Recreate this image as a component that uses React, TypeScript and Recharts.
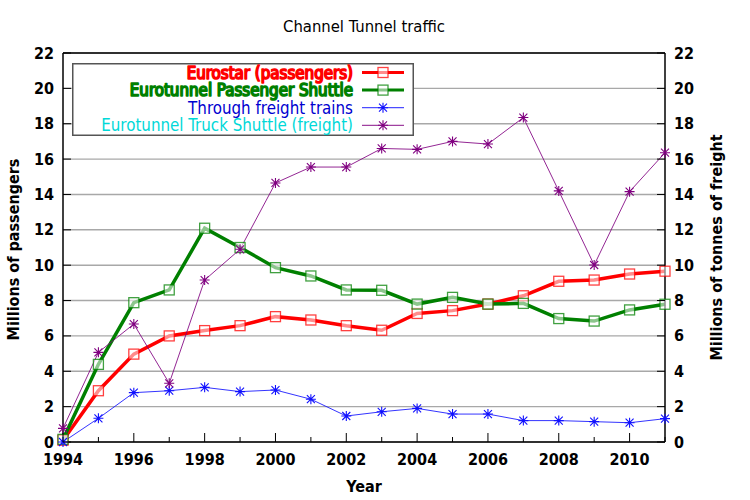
import React from 'react';
import { ComposedChart, Line, XAxis, YAxis, CartesianGrid, ReferenceLine, Legend } from 'recharts';

const years = [1994, 1995, 1996, 1997, 1998, 1999, 2000, 2001, 2002, 2003, 2004, 2005, 2006, 2007, 2008, 2009, 2010, 2011];
const eurostar = [0.1, 2.9, 4.97, 6.0, 6.3, 6.58, 7.09, 6.9, 6.58, 6.32, 7.27, 7.43, 7.8, 8.27, 9.09, 9.16, 9.5, 9.66];
const passengerShuttle = [0.15, 4.39, 7.88, 8.6, 12.09, 11.0, 9.86, 9.39, 8.6, 8.58, 7.8, 8.18, 7.8, 7.84, 6.98, 6.84, 7.47, 7.79];
const freightTrains = [0.0, 1.34, 2.79, 2.9, 3.09, 2.85, 2.94, 2.42, 1.47, 1.71, 1.9, 1.58, 1.58, 1.21, 1.21, 1.15, 1.09, 1.32];
const truckShuttle = [0.77, 5.07, 6.67, 3.32, 9.16, 10.9, 14.65, 15.55, 15.55, 16.6, 16.55, 17.0, 16.85, 18.35, 14.2, 10.01, 14.16, 16.36];
const yTicks = [0, 2, 4, 6, 8, 10, 12, 14, 16, 18, 20, 22];

const data = years.map((year, i) => ({
  year,
  eurostar: eurostar[i],
  passengerShuttle: passengerShuttle[i],
  freightTrains: freightTrains[i],
  truckShuttle: truckShuttle[i],
}));

const FONT = "'DejaVu Sans Condensed', 'DejaVu Sans', sans-serif";
const COND = 'condensed';

type SeriesMeta = {
  key: string;
  label: string;
  textColor: string;
  color: string;
  width: number;
  marker: 'square' | 'star';
  outline: boolean;
  axis: 'left' | 'right';
};

const series: SeriesMeta[] = [
  { key: 'eurostar', label: 'Eurostar (passengers)', textColor: '#ff0000', color: '#ff0000', width: 3.5, marker: 'square', outline: true, axis: 'left' },
  { key: 'passengerShuttle', label: 'Eurotunnel Passenger Shuttle', textColor: '#008000', color: '#008000', width: 3.5, marker: 'square', outline: true, axis: 'left' },
  { key: 'freightTrains', label: 'Through freight trains', textColor: '#0000d0', color: '#1010ff', width: 1, marker: 'star', outline: false, axis: 'right' },
  { key: 'truckShuttle', label: 'Eurotunnel Truck Shuttle (freight)', textColor: '#00d8d8', color: '#800080', width: 1, marker: 'star', outline: false, axis: 'right' },
];

const SquareMark = ({ cx, cy, color }: { cx: number; cy: number; color: string }) => (
  <rect x={cx - 5} y={cy - 5} width={10} height={10} fill="#ffffff" fillOpacity={0.55} stroke={color} strokeOpacity={0.75} strokeWidth={1.3} />
);

const StarMark = ({ cx, cy, color }: { cx: number; cy: number; color: string }) => (
  <path
    d={`M${cx - 5},${cy}H${cx + 5}M${cx},${cy - 5}V${cy + 5}M${cx - 4},${cy - 4}L${cx + 4},${cy + 4}M${cx - 4},${cy + 4}L${cx + 4},${cy - 4}`}
    stroke={color}
    strokeWidth={1.1}
    fill="none"
  />
);

const makeDot = (meta: SeriesMeta) => (props: any) => {
  const { cx, cy, index } = props;
  if (cx == null || cy == null) return <g key={`${meta.key}-${index}`} />;
  return (
    <g key={`${meta.key}-${index}`}>
      {meta.marker === 'square' ? <SquareMark cx={cx} cy={cy} color={meta.color} /> : <StarMark cx={cx} cy={cy} color={meta.color} />}
    </g>
  );
};

const textBold = { fontFamily: FONT, fontStretch: COND, fontWeight: 'bold' as const, fontSize: 16, fill: '#000' };

const XTick = (props: any) => {
  const { x, y, payload } = props;
  const v = payload.value as number;
  const major = v % 2 === 0;
  return (
    <g>
      <line x1={x} x2={x} y1={y} y2={y - (major ? 9 : 5)} stroke="#000" strokeWidth={1} />
      {major && (
        <text x={x} y={y + 17} textAnchor="middle" dominantBaseline="central" style={textBold}>
          {v}
        </text>
      )}
    </g>
  );
};

const LeftTick = (props: any) => {
  const { x, y, payload } = props;
  return (
    <g>
      <line x1={x} x2={x + 8} y1={y} y2={y} stroke="#000" strokeWidth={1} />
      <text x={x - 9} y={y} textAnchor="end" dominantBaseline="central" style={textBold}>
        {payload.value}
      </text>
    </g>
  );
};

const RightTick = (props: any) => {
  const { x, y, payload } = props;
  return (
    <g>
      <line x1={x} x2={x - 8} y1={y} y2={y} stroke="#000" strokeWidth={1} />
      <text x={x + 9} y={y} textAnchor="start" dominantBaseline="central" style={textBold}>
        {payload.value}
      </text>
    </g>
  );
};

const LegendBox = () => {
  const w = 342;
  const h = 73;
  return (
    <svg width={w} height={h} style={{ display: 'block' }}>
      <rect x={0.75} y={0.75} width={w - 1.5} height={h - 1.5} fill="#ffffff" stroke="#555555" strokeWidth={1.5} />
      {series.map((s, i) => {
        const cy = 9.5 + i * 17.6;
        return (
          <g key={s.key}>
            <text
              x={281}
              y={cy}
              textAnchor="end"
              dominantBaseline="central"
              style={{ fontFamily: FONT, fontStretch: COND, fontSize: 16.8 }}
              fill={s.textColor}
              stroke={s.outline ? s.textColor : 'none'}
              strokeWidth={s.outline ? 1.6 : 0}
              strokeLinejoin="round"
            >
              {s.label}
            </text>
            <line x1={290} x2={332} y1={cy} y2={cy} stroke={s.color} strokeWidth={s.width > 1 ? 3 : 1.2} strokeOpacity={s.width > 1 ? 1 : 0.75} />
            {s.marker === 'square' ? <SquareMark cx={311} cy={cy} color={s.color} /> : <StarMark cx={311} cy={cy} color={s.color} />}
          </g>
        );
      })}
    </svg>
  );
};

export default function App() {
  return (
    <div style={{ position: 'absolute', left: 0, top: 0, width: 750, height: 500, background: '#fff', fontFamily: FONT }}>
      <ComposedChart width={750} height={500} data={data} margin={{ top: 53, right: 0, bottom: 0, left: 0 }}>
        <CartesianGrid yAxisId="left" vertical={false} stroke="#a8a8a8" strokeWidth={1.4} />
        <XAxis
          dataKey="year"
          type="number"
          domain={[1994, 2011]}
          ticks={years}
          interval={0}
          height={58}
          tickLine={false}
          tickSize={0}
          tickMargin={0}
          tick={<XTick />}
          axisLine={{ stroke: '#000', strokeWidth: 1.5 }}
          label={{
            content: (p: any) => {
              const vb = p.viewBox || { x: 63, y: 442, width: 602, height: 58 };
              return (
                <text x={vb.x + vb.width / 2} y={vb.y + 44} textAnchor="middle" dominantBaseline="central" style={textBold}>
                  Year
                </text>
              );
            },
          }}
        />
        <YAxis
          yAxisId="left"
          orientation="left"
          width={63}
          domain={[0, 22]}
          ticks={yTicks}
          interval={0}
          tickLine={false}
          tickSize={0}
          tickMargin={0}
          tick={<LeftTick />}
          axisLine={{ stroke: '#000', strokeWidth: 1.5 }}
          label={{
            content: (p: any) => {
              const vb = p.viewBox || { x: 0, y: 53, width: 63, height: 389 };
              const cx = vb.x + 13;
              const cy = vb.y + vb.height / 2 + 2;
              return (
                <text x={cx} y={cy} transform={`rotate(-90 ${cx} ${cy})`} textAnchor="middle" dominantBaseline="central" style={textBold}>
                  Millions of passengers
                </text>
              );
            },
          }}
        />
        <YAxis
          yAxisId="right"
          orientation="right"
          width={85}
          domain={[0, 22]}
          ticks={yTicks}
          interval={0}
          tickLine={false}
          tickSize={0}
          tickMargin={0}
          tick={<RightTick />}
          axisLine={{ stroke: '#000', strokeWidth: 1.5 }}
          label={{
            content: (p: any) => {
              const vb = p.viewBox || { x: 665, y: 53, width: 85, height: 389 };
              const cx = vb.x + 51;
              const cy = vb.y + vb.height / 2;
              return (
                <text x={cx} y={cy} transform={`rotate(-90 ${cx} ${cy})`} textAnchor="middle" dominantBaseline="central" style={textBold}>
                  Millions of tonnes of freight
                </text>
              );
            },
          }}
        />
        <ReferenceLine
          yAxisId="left"
          y={22}
          stroke="#000"
          strokeWidth={1.5}
          label={{
            content: (p: any) => {
              const vb = p.viewBox || { x: 63, y: 53, width: 602, height: 0 };
              return (
                <text x={vb.x + vb.width / 2} y={vb.y - 21.5} textAnchor="middle" style={{ fontFamily: FONT, fontStretch: COND, fontSize: 16.5, fill: '#000' }}>
                  Channel Tunnel traffic
                </text>
              );
            },
          }}
        />
        {series.map((s) => (
          <Line
            key={s.key}
            yAxisId={s.axis}
            type="linear"
            dataKey={s.key}
            name={s.label}
            stroke={s.color}
            strokeWidth={s.width}
            strokeOpacity={s.width > 1 ? 1 : 0.85}
            dot={makeDot(s)}
            activeDot={false}
            isAnimationActive={false}
          />
        ))}
        <Legend
          layout="horizontal"
          verticalAlign="middle"
          align="center"
          content={() => <LegendBox />}
          wrapperStyle={{ position: 'absolute', left: 72, top: 63, width: 342, height: 73 }}
        />
      </ComposedChart>
    </div>
  );
}
